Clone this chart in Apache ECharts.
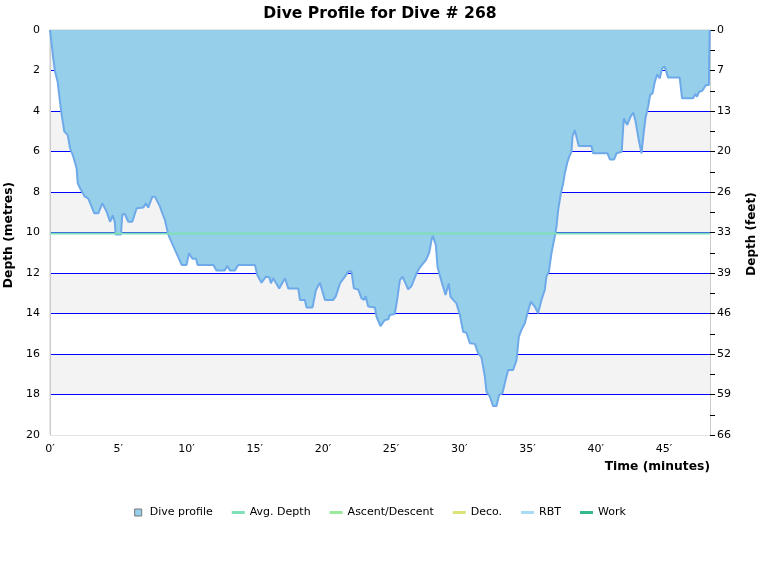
<!DOCTYPE html>
<html>
<head>
<meta charset="utf-8">
<script src="https://cdn.jsdelivr.net/npm/echarts@6/dist/echarts.min.js"></script>
<style>
html,body{margin:0;padding:0;background:#fff;}
#chart{width:760px;height:580px;}
</style>
</head>
<body>
<div id="chart"></div>
<script>
// ---- data ----
const title = 'Dive Profile for Dive # 268';
const times = [0,0.1,0.24,0.37,0.56,0.73,0.86,1.05,1.3,1.47,1.71,1.95,2.03,2.27,2.56,2.8,2.93,3.25,3.54,3.83,4.15,4.4,4.6,4.75,4.81,5.2,5.3,5.49,5.74,6.03,6.35,6.84,7.03,7.2,7.5,7.69,8.06,8.23,8.42,8.67,8.79,9.16,9.65,10.01,10.18,10.3,10.45,10.7,10.82,11.97,12.2,12.8,12.99,13.19,13.55,13.8,15.02,15.19,15.5,15.82,16.07,16.19,16.36,16.8,17.22,17.46,18.19,18.32,18.68,18.8,19.24,19.49,19.78,20.15,20.76,20.95,21.25,21.61,21.86,22.1,22.27,22.59,22.83,23.03,23.13,23.32,23.81,23.93,24.22,24.54,24.79,24.9,25.27,25.44,25.64,25.84,26.25,26.5,26.86,27.11,27.55,27.79,27.96,28.05,28.28,28.4,28.7,28.99,29.23,29.35,29.55,29.79,30.04,30.28,30.52,30.77,31.14,31.38,31.62,31.87,31.99,32.23,32.48,32.72,32.92,33.16,33.33,33.58,33.94,34.19,34.36,34.55,34.8,34.99,35.24,35.53,35.77,36.02,36.26,36.38,36.56,36.75,36.99,37.12,37.24,37.44,37.61,37.73,37.93,38.1,38.22,38.29,38.46,38.58,38.75,39.68,39.8,40.86,41.03,41.34,41.52,41.9,42.05,42.18,42.3,42.55,42.75,42.92,43.15,43.35,43.52,43.64,43.86,43.98,44.16,44.33,44.5,44.69,44.86,45.05,45.3,46.15,46.32,47.13,47.3,47.42,47.57,47.79,48.07,48.29,48.31,48.35];
const depths = [0,0,1.4,2.06,2.55,3.54,4.2,5.02,5.19,5.84,6.26,6.83,7.57,7.9,8.23,8.31,8.23,9.05,9.05,8.56,8.97,9.47,9.15,9.5,10.1,10.1,9.1,9.1,9.47,9.47,8.8,8.77,8.56,8.77,8.23,8.23,8.72,9.05,9.38,10.1,10.29,10.86,11.6,11.6,11.03,11.0,11.3,11.3,11.6,11.6,11.88,11.88,11.65,11.88,11.88,11.6,11.6,12.1,12.48,12.18,12.21,12.51,12.26,12.76,12.26,12.76,12.76,13.33,13.33,13.7,13.7,12.84,12.48,13.33,13.33,13.14,12.51,12.18,11.93,11.93,12.76,12.81,13.25,13.33,13.14,13.66,13.7,14.16,14.62,14.32,14.29,14.07,14.02,13.33,12.35,12.18,12.81,12.64,12.02,11.72,11.36,11.0,10.37,10.17,10.62,11.7,12.43,13.09,12.51,13.17,13.33,13.5,14.07,14.9,14.95,15.47,15.5,15.97,16.17,17.12,17.86,18.1,18.57,18.57,18.02,17.94,17.45,16.79,16.79,16.3,15.14,14.81,14.48,13.99,13.42,13.66,13.99,13.33,12.84,12.18,11.93,11.03,10.2,9.71,8.89,8.07,7.57,7.08,6.5,6.17,6.01,5.27,4.94,4.94,5.73,5.73,6.09,6.09,6.39,6.39,6.09,6.01,4.36,4.44,4.69,4.28,4.07,4.53,5.43,6.09,5.02,4.36,3.7,3.21,3.13,2.55,2.19,2.39,1.89,1.81,2.35,2.35,3.37,3.37,3.16,3.29,3.05,3.01,2.72,2.72,1.4,0];
const avgDepth = 10.05;
const timeMax = 48.37;
const depthTickLabels = ['0','2','4','6','8','10','12','14','16','18','20'];
const feetTickLabels = ['0','7','13','20','26','33','39','46','52','59','66'];
const timeTickLabels = ['0\u2032','5\u2032','10\u2032','15\u2032','20\u2032','25\u2032','30\u2032','35\u2032','40\u2032','45\u2032'];
const legendNames = ['Dive profile','Avg. Depth','Ascent/Descent','Deco.','RBT','Work'];
const legendColors = ['#96cfe9','#7fe0b8','#9aea9a','#dbe27a','#a8dcf4','#34b98a'];

// ---- chart ----
const FONT = 'DejaVu Sans';
const profile = times.map((t,i)=>[t,depths[i]]);
const chart = echarts.init(document.getElementById('chart'), null, {renderer:'canvas'});
const lineIcon = 'path://M0,0H13V3H0Z';
const squareIcon = 'path://M0,0H7V7H0Z';

const option = {
  animation:false,
  backgroundColor:'#ffffff',
  textStyle:{fontFamily:FONT},
  title:{text:title,left:'center',top:1,textStyle:{fontFamily:FONT,fontSize:15.6,fontWeight:'bold',color:'#000'}},
  grid:{left:50,right:50,top:30,bottom:145,show:true,borderColor:'#cccccc',borderWidth:1},
  legend:{
    left:'center',top:502,itemWidth:13,itemHeight:7,itemGap:19,
    textStyle:{fontFamily:FONT,fontSize:11,color:'#000'},
    data:legendNames.map((n,i)=>({name:n,icon:i===0?squareIcon:lineIcon,
      itemStyle: i===0?{color:legendColors[0],borderColor:'#777',borderWidth:1}:{color:legendColors[i]}}))
  },
  xAxis:{
    type:'value',min:0,max:timeMax,interval:5,
    axisLine:{show:true,lineStyle:{color:'#cccccc'}},
    axisTick:{show:false},
    splitLine:{show:false},
    axisLabel:{fontFamily:FONT,fontSize:11,color:'#000',margin:9,
      formatter:v=>{const k=Math.round(v/5);return Math.abs(v-k*5)<1e-6&&k<timeTickLabels.length?timeTickLabels[k]:'';}}
  },
  yAxis:[{
    type:'value',min:0,max:20,interval:2,inverse:true,position:'left',
    axisLine:{show:true,lineStyle:{color:'#cccccc'}},
    axisTick:{show:false},
    splitLine:{show:true,showMinLine:false,showMaxLine:false,lineStyle:{color:'#0000ff',width:1}},
    splitArea:{show:true,areaStyle:{color:['#f3f3f3','#ffffff']}},
    axisLabel:{fontFamily:FONT,fontSize:11,color:'#000',margin:10,
      formatter:v=>depthTickLabels[Math.round(v/2)]}
  },{
    type:'value',min:0,max:20,interval:1,inverse:true,position:'right',
    axisLine:{show:true,lineStyle:{color:'#cccccc'}},
    axisTick:{show:true,length:5,lineStyle:{color:'#000'}},
    splitLine:{show:false},splitArea:{show:false},
    axisLabel:{fontFamily:FONT,fontSize:11,color:'#000',margin:7,
      formatter:v=>{const k=Math.round(v);return k%2===0?feetTickLabels[k/2]:'';}}
  }],
  series:[
    {name:'Dive profile',type:'line',data:profile,symbol:'none',
      lineStyle:{color:'#6eaaea',width:2},
      itemStyle:{color:'#96cfe9'},
      areaStyle:{color:'#96cfe9',opacity:1,origin:'start'},z:3},
    {name:'Avg. Depth',type:'line',data:[[0,avgDepth],[timeMax,avgDepth]],symbol:'none',
      lineStyle:{color:legendColors[1],width:2},itemStyle:{color:legendColors[1]},z:4},
    {name:'Ascent/Descent',type:'line',data:[],itemStyle:{color:legendColors[2]}},
    {name:'Deco.',type:'line',data:[],itemStyle:{color:legendColors[3]}},
    {name:'RBT',type:'line',data:[],itemStyle:{color:legendColors[4]}},
    {name:'Work',type:'line',data:[],itemStyle:{color:legendColors[5]}}
  ],
  graphic:[
    {type:'text',x:9,y:235,rotation:Math.PI/2,
      style:{text:'Depth (metres)',fontFamily:FONT,fontSize:12.3,fontWeight:'bold',fill:'#000',align:'center',verticalAlign:'middle'}},
    {type:'text',x:752,y:234,rotation:Math.PI/2,
      style:{text:'Depth (feet)',fontFamily:FONT,fontSize:12,fontWeight:'bold',fill:'#000',align:'center',verticalAlign:'middle'}},
    {type:'text',x:710,y:467,
      style:{text:'Time (minutes)',fontFamily:FONT,fontSize:12.3,fontWeight:'bold',fill:'#000',align:'right',verticalAlign:'middle'}}
  ]
};
chart.setOption(option);
</script>
</body>
</html>
